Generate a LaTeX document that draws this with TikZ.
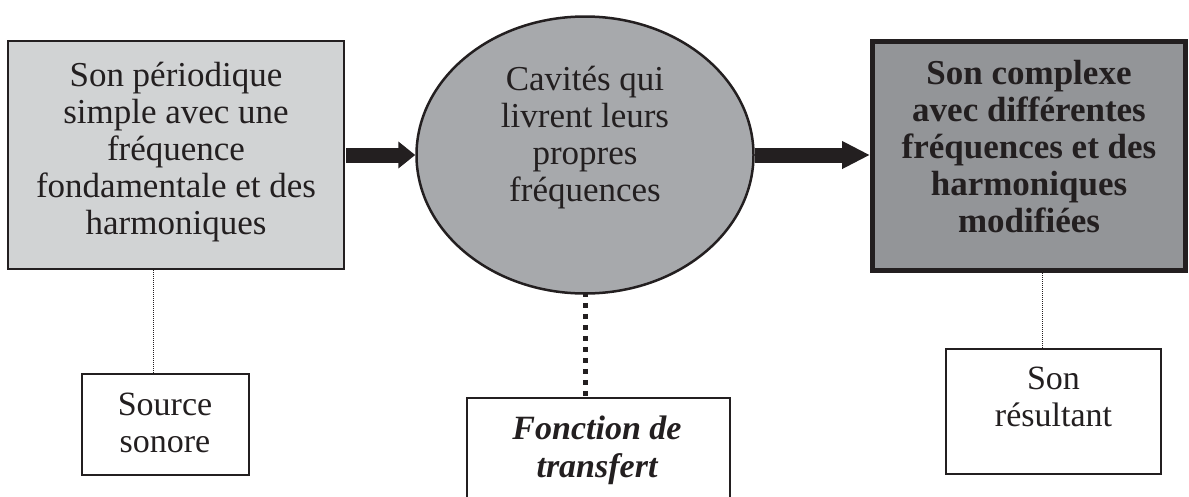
\documentclass[tikz,border=0pt]{standalone}
\usepackage{fontspec}
\setmainfont{Liberation Serif}
\usetikzlibrary{shapes.geometric,arrows.meta}
\definecolor{ink}{HTML}{231F20}
\definecolor{lightfill}{HTML}{D1D3D4}
\definecolor{midfill}{HTML}{A7A9AC}
\definecolor{darkfill}{HTML}{939598}
\tikzset{
  bigtxt/.style={font=\fontsize{35}{37}\selectfont, text=ink, align=center, inner sep=0pt},
  smalltxt/.style={font=\fontsize{34}{37.5}\selectfont, text=ink, align=center, inner sep=0pt},
  srcbox/.style={draw=ink, line width=2pt, fill=lightfill, minimum width=336pt, minimum height=228pt, inner sep=0pt},
  cavity/.style={ellipse, draw=ink, line width=2.5pt, fill=midfill, minimum width=337pt, minimum height=277pt, inner sep=0pt},
  resbox/.style={draw=ink, line width=5pt, fill=darkfill, minimum width=313pt, minimum height=229pt, inner sep=0pt},
  labbox/.style={draw=ink, line width=2pt, fill=white, inner sep=0pt},
  bigarrow/.style={draw=ink, line width=15pt},
  finedots/.style={draw=ink, line width=1pt, dash pattern=on 1pt off 1pt},
  squaredots/.style={draw=ink, line width=5pt, dash pattern=on 5pt off 6pt}
}
\begin{document}
\begin{tikzpicture}[x=1pt,y=-1pt]
\useasboundingbox (0,0) rectangle (1189,496);
% main blocks
\node[srcbox] (src) at (176,155) {};
\node[cavity] (cav) at (585,155) {};
\node[resbox] (res) at (1029,156) {};
\node[bigtxt] (srctxt) at (176,152) {Son périodique\\simple avec une\\fréquence\\fondamentale et des\\harmoniques};
\node[bigtxt] (cavtxt) at (585,138) {Cavités qui\\livrent leurs\\propres\\fréquences};
\node[bigtxt, font=\fontsize{35}{37}\selectfont\bfseries] (restxt) at (1029,147) {Son complexe\\avec différentes\\fréquences et des\\harmoniques\\modifiées};
% label boxes
\node[labbox, minimum width=167pt, minimum height=101pt] (srclab) at (165.5,424.5) {};
\node[labbox, minimum width=263pt, minimum height=107pt] (cavlab) at (598.5,451.5) {};
\node[labbox, minimum width=215pt, minimum height=125pt] (reslab) at (1053.5,411.5) {};
\node[smalltxt] (srclabtxt) at (165,423) {Source\\sonore};
\node[smalltxt, font=\fontsize{34}{38}\selectfont\bfseries\itshape] (cavlabtxt) at (597,450) {Fonction de\\transfert};
\node[smalltxt] (reslabtxt) at (1053.5,397) {Son\\résultant};
% arrows
\draw[bigarrow, -{Triangle[width=26pt,length=17pt]}] ([xshift=1pt]src.east) -- (cav.west);
\draw[bigarrow, -{Triangle[width=26pt,length=28pt]}] (cav.east) -- (cav.east -| res.west);
% dotted connectors
\draw[finedots] ([xshift=-23pt]src.south) -- ([xshift=-12.5pt]srclab.north);
\draw[squaredots] ([yshift=3pt]cav.south) -- ([xshift=-13.5pt]cavlab.north);
\draw[finedots] ([xshift=13pt]res.south) -- ([xshift=-11.5pt]reslab.north);
\end{tikzpicture}
\end{document}
